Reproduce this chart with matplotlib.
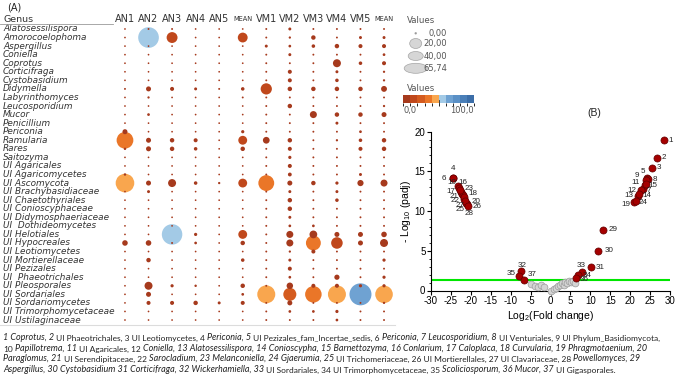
import numpy as np
import matplotlib
import matplotlib.pyplot as plt
import matplotlib.transforms as mtransforms
from matplotlib.colors import ListedColormap, BoundaryNorm
from matplotlib.patches import Ellipse
from matplotlib.lines import Line2D
import matplotlib.cm as cm

plt.rcParams['font.family'] = 'Liberation Sans'
plt.rcParams['axes.unicode_minus'] = False
plt.rcParams['mathtext.fontset'] = 'custom'
plt.rcParams['mathtext.rm'] = 'Liberation Sans'
plt.rcParams['mathtext.it'] = 'Liberation Sans:italic'


''' DATA '''
genera = ['Alatosessilispora', 'Amorocoelophoma', 'Aspergillus', 'Coniella', 'Coprotus',
          'Corticifraga', 'Cystobasidium', 'Didymella', 'Labyrinthomyces', 'Leucosporidium',
          'Mucor', 'Penicillium', 'Periconia', 'Ramularia', 'Rares', 'Saitozyma',
          'UI Agaricales', 'UI Agaricomycetes', 'UI Ascomycota', 'UI Brachybasidiaceae',
          'UI Chaetothyriales', 'UI Conioscyphaceae', 'UI Didymosphaeriaceae',
          'UI  Dothideomycetes', 'UI Helotiales', 'UI Hypocreales', 'UI Leotiomycetes',
          'UI Mortierellaceae', 'UI Pezizales', 'UI  Phaeotrichales', 'UI Pleosporales',
          'UI Sordariales', 'UI Sordariomycetes', 'UI Trimorphomycetaceae', 'UI Ustilaginaceae']
samples = ['AN1', 'AN2', 'AN3', 'AN4', 'AN5', 'MEAN', 'VM1', 'VM2', 'VM3', 'VM4', 'VM5', 'MEAN']

# relative abundance (%), rows = genera, cols = samples
abund = np.array([
    [0.2, 0.3, 0.3, 0.2, 0.2, 0.2,  0.3, 1.0, 0.3, 0.3, 0.3, 0.3],
    [0.2, 58,  16,  0.2, 0.2, 13,   0.3, 0.5, 2.5, 0.3, 1.0, 1.0],
    [0.2, 0.2, 0.2, 0.2, 0.2, 0.2,  1.0, 0.8, 1.5, 2.5, 2.0, 2.0],
    [0.2, 0.2, 0.2, 0.2, 0.2, 0.2,  0.3, 1.0, 0.3, 0.3, 0.3, 0.8],
    [0.2, 0.2, 0.2, 0.2, 0.2, 0.2,  0.3, 0.3, 0.3, 8.5, 1.5, 2.0],
    [0.2, 0.2, 0.2, 0.2, 0.2, 0.2,  0.3, 2.0, 0.3, 1.0, 0.3, 0.5],
    [0.2, 0.2, 0.2, 0.2, 0.2, 0.2,  0.3, 2.0, 0.3, 1.5, 0.3, 0.5],
    [0.3, 3.2, 2.0, 1.0, 0.3, 1.5,  17,  2.5, 2.5, 2.5, 2.5, 4.5],
    [0.2, 0.5, 0.2, 0.2, 0.2, 0.3,  0.3, 0.3, 0.3, 0.3, 0.3, 0.3],
    [0.2, 0.2, 0.2, 0.2, 0.2, 0.2,  0.3, 2.5, 0.3, 0.3, 0.3, 0.5],
    [0.2, 0.8, 0.2, 0.2, 0.2, 0.2,  0.3, 0.3, 6.5, 2.5, 2.5, 3.2],
    [0.2, 0.2, 0.2, 0.2, 0.2, 0.2,  0.3, 0.3, 0.3, 1.0, 0.3, 0.3],
    [3.2, 0.2, 0.2, 0.2, 0.2, 1.2,  0.3, 0.3, 0.3, 0.3, 0.8, 0.3],
    [38,  3.2, 2.5, 2.0, 0.2, 10.5, 6.0, 2.5, 0.3, 0.5, 1.5, 2.5],
    [0.6, 3.2, 2.5, 1.5, 0.2, 2.5,  0.3, 2.0, 0.3, 0.3, 2.0, 2.5],
    [0.2, 0.2, 0.2, 0.2, 0.2, 0.2,  0.3, 1.2, 0.3, 0.3, 0.3, 0.3],
    [0.2, 0.2, 0.2, 0.2, 0.2, 0.2,  0.3, 2.0, 0.3, 0.3, 0.3, 0.3],
    [0.6, 0.2, 0.2, 0.2, 0.2, 0.2,  0.3, 1.8, 0.3, 0.3, 1.0, 0.3],
    [47,  3.2, 8.5, 1.5, 0.5, 10.5, 34,  3.2, 2.5, 1.2, 5.0, 6.5],
    [0.2, 1.0, 0.2, 0.2, 0.2, 0.2,  0.3, 1.0, 0.3, 1.0, 0.3, 0.3],
    [0.2, 0.2, 0.2, 0.2, 0.2, 0.2,  0.3, 2.5, 0.3, 1.5, 0.3, 0.3],
    [0.2, 0.2, 0.2, 0.2, 0.2, 0.2,  0.3, 2.5, 0.3, 0.3, 0.3, 0.3],
    [0.2, 0.2, 0.2, 0.2, 0.2, 0.2,  0.3, 1.0, 0.3, 0.3, 0.3, 0.3],
    [0.2, 0.2, 0.2, 0.2, 0.2, 0.2,  0.3, 0.8, 0.8, 0.3, 0.3, 0.3],
    [0.2, 0.2, 57,  1.2, 0.2, 10.5, 0.3, 6.5, 8.0, 3.2, 3.2, 4.0],
    [4.0, 4.0, 0.3, 0.8, 0.2, 2.5,  0.3, 6.5, 30,  18,  3.2, 8.5],
    [0.2, 0.2, 0.2, 0.2, 0.2, 0.2,  0.3, 0.5, 2.0, 0.3, 0.3, 0.3],
    [0.2, 2.5, 0.2, 0.2, 0.2, 1.5,  0.3, 1.0, 0.3, 0.3, 0.3, 1.2],
    [0.2, 0.2, 0.2, 0.2, 0.2, 0.2,  0.3, 2.0, 0.3, 0.3, 0.3, 0.3],
    [0.2, 0.2, 0.2, 0.2, 0.2, 0.2,  0.3, 0.8, 0.3, 3.5, 0.3, 1.2],
    [0.2, 8.5, 1.2, 0.6, 0.2, 2.5,  0.3, 5.5, 2.0, 2.0, 1.2, 1.2],
    [0.2, 3.2, 0.2, 0.2, 0.2, 0.8,  44,  23,  37,  44,  65.74, 42],
    [0.2, 2.0, 2.0, 2.5, 1.0, 2.0,  0.3, 3.2, 0.3, 0.3, 0.3, 0.5],
    [0.2, 0.2, 0.2, 0.2, 0.2, 0.2,  0.3, 0.8, 0.8, 1.2, 0.3, 0.3],
    [0.2, 0.2, 0.2, 0.2, 0.2, 0.2,  0.3, 0.3, 0.3, 0.8, 0.3, 0.3],
])

size_legend_labels = ['0,00', '20,00', '40,00', '65,74']

# volcano plot (panel B)
vol_ids = list(range(1, 38))
vol_lfc = [28.5, 26.8, 25.6, -24.5, 24.3, -24.6, 23.2, 24.5, 24.0, -23.3,
           23.7, 22.8, 22.0, 22.3, 23.9, -23.05, -22.55, -22.3, 21.0, -21.6,
           -22.05, -21.8, -22.8, 21.4, -20.85, -21.1, -21.35, -20.6, 13.1, 12.0,
           10.1, -7.5, 7.8, 7.0, -7.9, 6.4, -6.7]
vol_padj = [18.9, 16.7, 15.45, 14.2, 14.2, 14.1, 12.8, 14.0, 13.9, 13.1,
            13.3, 12.6, 11.9, 12.1, 13.4, 12.87, 12.42, 12.2, 11.1, 11.5,
            11.97, 11.74, 12.65, 11.3, 10.83, 11.06, 11.3, 10.6, 7.66, 5.0,
            2.9, 2.4, 2.3, 1.94, 1.8, 1.56, 1.35]
ns_lfc = [-4.8, -4.0, -3.2, -2.3, -1.7, 0.1, 0.8, 1.4, 1.9, 2.4, 2.9, 3.3, 3.7, 4.2, 4.7, 5.2, 5.6, 6.1]
ns_padj = [0.85, 0.6, 0.5, 0.65, 0.4, 0.0, 0.25, 0.35, 0.55, 0.75, 0.9, 0.7, 1.05, 0.95, 1.2, 1.1, 1.25, 1.0]
padj_cut = 1.3

caption = [
    [('1 Coprotus, 2', 1), ('UI Phaeotrichales, 3 UI Leotiomycetes, 4', 0), ('Periconia, 5', 1),
     ('UI Pezizales_fam_Incertae_sedis, 6', 0), ('Periconia, 7 Leucosporidium, 8', 1),
     ('UI Venturiales, 9 UI Phylum_Basidiomycota,', 0)],
    [('10', 0), ('Papillotrema, 11', 1), ('UI Agaricales, 12', 0),
     ('Coniella, 13 Alatosessilispora, 14 Conioscypha, 15 Barnettozyma, 16 Conlarium, 17 Caloplaca, 18 Curvularia, 19 Phragmotaenium, 20', 1)],
    [('Paraglomus, 21', 1), ('UI Serendipitaceae, 22', 0), ('Sarocladium, 23 Melanconiella, 24 Gjaerumia, 25', 1),
     ('UI Trichomeriaceae, 26 UI Mortierellales, 27 UI Clavariaceae, 28', 0), ('Powellomyces, 29', 1)],
    [('Aspergillus, 30 Cystobasidium 31 Corticifraga, 32 Wickerhamiella, 33', 1),
     ('UI Sordariales, 34 UI Trimorphomycetaceae, 35', 0), ('Scoliciosporum, 36 Mucor, 37', 1),
     ('UI Gigasporales.', 0)],
]


''' STYLE '''
W, H = 676, 374
bin_colors = ['#a63a1d', '#c0481c', '#d45b1f', '#ea7628', '#f9a64e',
              '#a3cae6', '#6fa2d2', '#5a90c6', '#4a7fb8', '#3c6ea8']
cmap = ListedColormap(bin_colors)
norm = BoundaryNorm(np.linspace(0, 100, 11), cmap.N)

def dot_size(v):
    return 0.8 + 3.8 * np.asarray(v)

# label offsets (points) for the volcano points
lab_off = {1: (5, 0), 2: (5, 0), 3: (5, 0), 4: (0, 6.5), 6: (-6.5, 0),
           5: (-3, 4.5), 9: (-6.5, 3), 8: (5, 0), 11: (-7, 1.5), 15: (5.5, -1),
           12: (-7, 0), 7: (4.5, -1), 13: (-7, 0), 14: (5.5, -1), 19: (-6, -1.4), 24: (5.5, -1),
           10: (-4, 2.5), 16: (2.7, 4), 23: (7, 1.3), 17: (-7.4, 0), 18: (8, 0), 21: (-6.5, -0.5),
           22: (-6, -2), 20: (8, -1.5), 27: (-4, -3.5), 26: (7.6, -3), 25: (-5.5, -3.5), 28: (0.5, -5),
           29: (7.5, 0), 30: (7.5, 0), 31: (7, 0), 32: (1.4, 4.5), 33: (0, 5), 34: (6.3, 0),
           35: (-5.5, 2.2), 36: (6, -1.2), 37: (6.3, 4)}


''' FIGURE '''
fig = plt.figure(figsize=(W / 100, H / 100), dpi=100)

def fx(px):
    return px / W

def fy(py):
    return 1 - py / H

# ---- panel A: bubble grid
axA = fig.add_axes([fx(113.2), fy(324.3), fx(282.6), 299.6 / H])
axA.set_xlim(-0.5, len(samples) - 0.5)
axA.set_ylim(len(genera) - 0.5, -0.5)
axA.axis('off')

gx, gy = np.meshgrid(np.arange(len(samples)), np.arange(len(genera)))
vals = abund.ravel()
order = np.argsort(-vals)
axA.scatter(gx.ravel()[order], gy.ravel()[order], s=dot_size(vals[order]),
            c=vals[order], cmap=cmap, norm=norm, linewidths=0, clip_on=False)

tr_lab = mtransforms.blended_transform_factory(fig.transFigure, axA.transData)
for i, g in enumerate(genera):
    axA.text(fx(3), i, g, transform=tr_lab, ha='left', va='center', fontsize=6.4,
             style='italic', color='#333333', family='DejaVu Sans')

tr_head = mtransforms.blended_transform_factory(axA.transData, fig.transFigure)
for j, s in enumerate(samples):
    axA.text(j, fy(19), s, transform=tr_head, ha='center', va='center',
             fontsize=4.8 if s == 'MEAN' else 7, color='#333333', family='DejaVu Sans')

fig.text(fx(3), fy(19.5), 'Genus', ha='left', va='center', fontsize=6.8, color='#333333', family='DejaVu Sans')
fig.text(fx(14), fy(7), '(A)', ha='center', va='center', fontsize=7, color='#222222', family='DejaVu Sans')
fig.add_artist(Line2D([0, fx(113)], [fy(23.5)] * 2, color='#9a9a9a', lw=0.6))
fig.add_artist(Line2D([0, fx(395)], [fy(324.5)] * 2, color='#dcdcdc', lw=0.8))

# ---- legends
fig.text(fx(407), fy(20.7), 'Values', ha='left', va='center', fontsize=6.2, color='#555555', family='DejaVu Sans')
axL = fig.add_axes([fx(400), fy(76), fx(80), 50 / H])
axL.set_xlim(400, 480)
axL.set_ylim(76, 26)
axL.axis('off')
leg_y = [33.3, 43.5, 56, 68.3]
leg_w = [1.6, 12, 15, 23]
leg_h = [1.6, 10, 9, 10]
for k, lab in enumerate(size_legend_labels):
    fc = '#8a8a8a' if k == 0 else '#d6d6d6'
    axL.add_patch(Ellipse((415.7, leg_y[k]), leg_w[k], leg_h[k], facecolor=fc,
                          edgecolor='#a5a5a5', lw=0.5))
    axL.text(447, leg_y[k], lab, ha='right', va='center', fontsize=6, color='#555555', family='DejaVu Sans')

fig.text(fx(407), fy(88.3), 'Values', ha='left', va='center', fontsize=6.2, color='#555555', family='DejaVu Sans')
cax = fig.add_axes([fx(403.3), fy(102.7), fx(70.7), 7.7 / H])
cb = fig.colorbar(cm.ScalarMappable(norm=norm, cmap=cmap), cax=cax, orientation='horizontal')
cb.outline.set_visible(False)
cax.set_xticks([])
cax.set_yticks([])
fig.add_artist(Line2D([fx(439)] * 2, [fy(100), fy(105)], color='#333333', lw=0.6))
fig.text(fx(403), fy(110), '0,0', ha='left', va='center', fontsize=6, color='#555555', family='DejaVu Sans')
fig.text(fx(474), fy(110), '100,0', ha='right', va='center', fontsize=6, color='#555555', family='DejaVu Sans')

# ---- panel B: volcano
axB = fig.add_axes([fx(431), fy(290.5), fx(239), 158.9 / H])
axB.axhline(padj_cut, color='#00e600', lw=1.5, zorder=2)
axB.scatter(ns_lfc, ns_padj, s=24, c='#d4d4d4', edgecolors='#9a9a9a', linewidths=0.5,
            zorder=3, clip_on=False)
axB.scatter(vol_lfc, vol_padj, s=26, c='#a50000', edgecolors='#600000', linewidths=0.5,
            zorder=4, clip_on=False)
for pid, x, y in zip(vol_ids, vol_lfc, vol_padj):
    axB.annotate(str(pid), (x, y), xytext=lab_off[pid], textcoords='offset points',
                 ha='center', va='center', fontsize=5.8, color='#222222', zorder=5)
axB.set_xlim(-30, 30)
axB.set_ylim(0, 20)
axB.set_xticks(range(-30, 31, 5))
axB.set_yticks(range(0, 21, 5))
axB.set_yticks(range(0, 21), minor=True)
axB.spines['top'].set_visible(False)
axB.spines['right'].set_visible(False)
for sp in ['left', 'bottom']:
    axB.spines[sp].set_linewidth(0.8)
axB.tick_params(labelsize=7, length=3, width=0.8, pad=1)
axB.tick_params(which='minor', length=1.5, width=0.6)
axB.set_xlabel('Log$_2$(Fold change)', fontsize=7.5, labelpad=2)
axB.set_ylabel('- Log$_{10}$ (padj)', fontsize=7.5, labelpad=1)
fig.text(fx(594.5), fy(112.7), '(B)', ha='center', va='center', fontsize=7.5, color='#222222')

# ---- caption (mixed italic / regular runs)
capax = fig.add_axes([0, 0, 1, 1])
capax.axis('off')
line_bottom = [341.8, 352.6, 363.4, 374.2]
for ln, segs in enumerate(caption):
    prev = None
    for txt, ital in segs:
        kw = dict(fontsize=6.5 if ital else 6.0, style='italic' if ital else 'normal',
                  family='Lato', color='#222222', ha='left', va='bottom')
        if prev is None:
            prev = capax.text(fx(3), fy(line_bottom[ln]), txt, transform=fig.transFigure, **kw)
        else:
            prev = capax.annotate(txt, xy=(1, 0), xycoords=prev, xytext=(1.5, 0),
                                  textcoords='offset points', **kw)

fig.savefig('out.png', dpi=100)
